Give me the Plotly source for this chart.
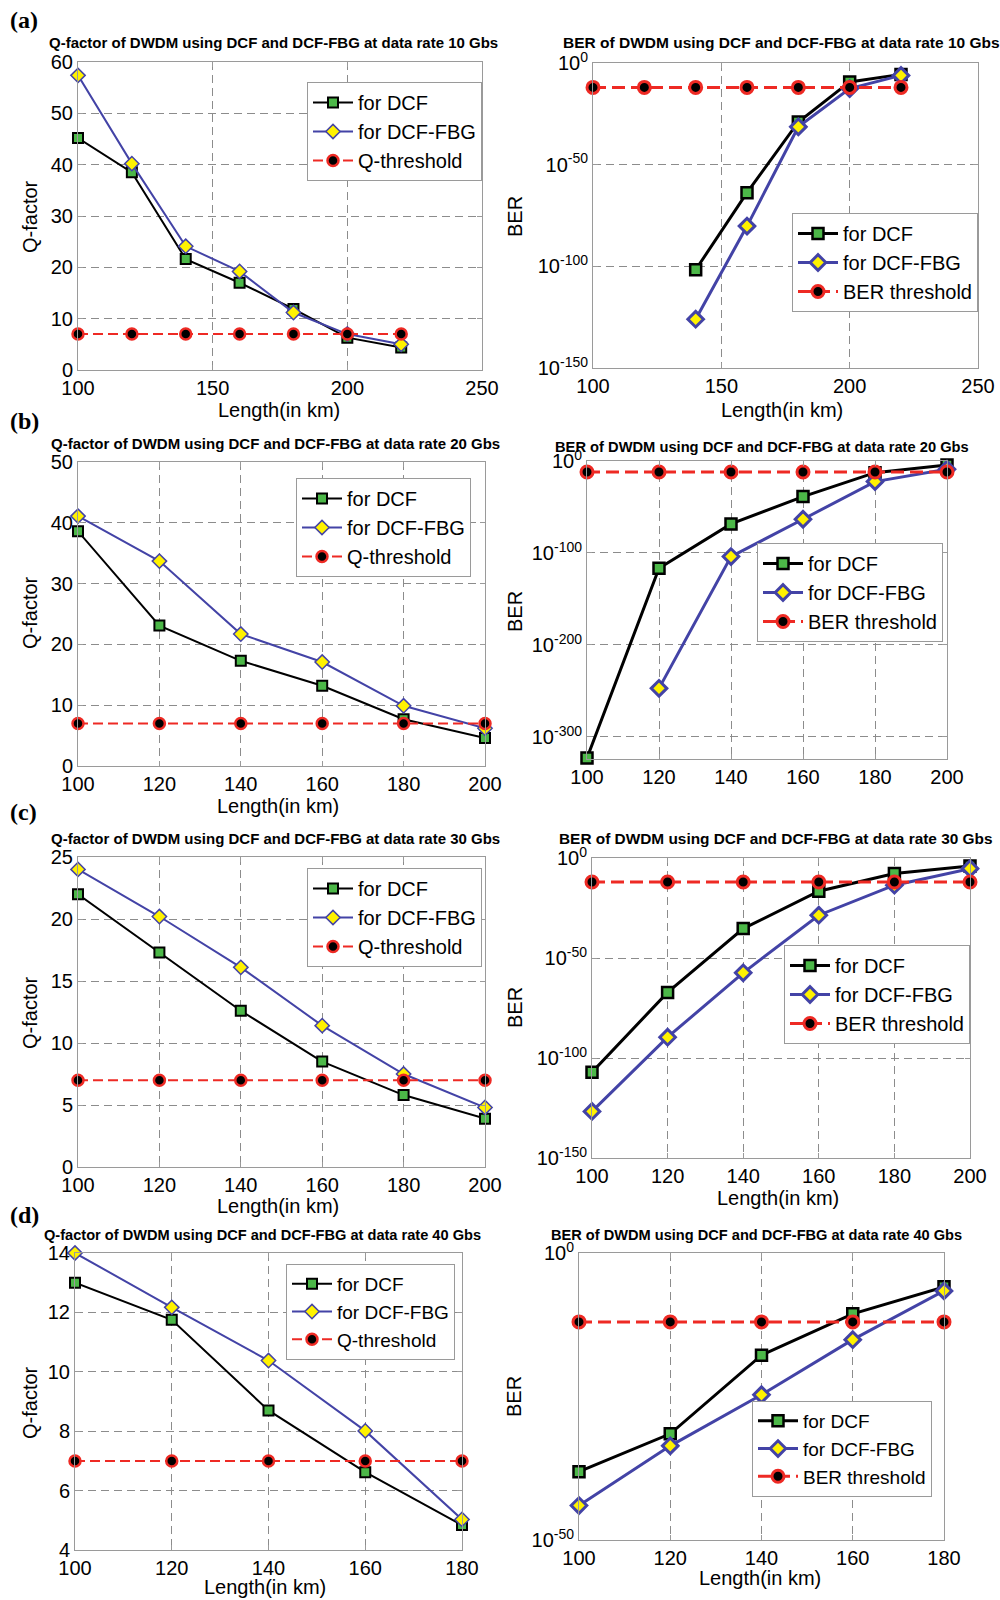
import plotly.graph_objects as go

W, H = 1000, 1600

# ---------------- data ----------------
# (a) 10 Gbs
len_a = [100, 120, 140, 160, 180, 200, 220]
q_dcf_10 = [45.2, 38.5, 21.6, 17.0, 11.9, 6.3, 4.4]
q_fbg_10 = [57.4, 40.2, 24.1, 19.2, 11.2, 7.0, 5.0]
q_thr_10 = [7, 7, 7, 7, 7, 7, 7]
ber_len_10 = [140, 160, 180, 200, 220]
ber_dcf_10 = [-101.7, -63.8, -29.0, -9.3, -5.6]      # log10(BER)
ber_fbg_10 = [-126.0, -80.2, -31.4, -12.6, -6.1]
ber_thr_10 = [-12, -12, -12, -12, -12, -12, -12]

# (b) 20 Gbs
len_b = [100, 120, 140, 160, 180, 200]
q_dcf_20 = [38.6, 23.1, 17.3, 13.2, 7.7, 4.6]
q_fbg_20 = [41.1, 33.7, 21.7, 17.1, 9.9, 6.2]
q_thr_20 = [7, 7, 7, 7, 7, 7]
ber_len_dcf_20 = [100, 120, 140, 160, 180, 200]
ber_dcf_20 = [-322.8, -116.5, -68.4, -38.7, -12.7, -4.3]
ber_len_fbg_20 = [120, 140, 160, 180, 200]
ber_fbg_20 = [-247.2, -103.9, -63.3, -22.4, -9.0]
ber_thr_20 = [-12, -12, -12, -12, -12, -12]

# (c) 30 Gbs
len_c = [100, 120, 140, 160, 180, 200]
q_dcf_30 = [22.0, 17.3, 12.6, 8.5, 5.8, 3.9]
q_fbg_30 = [24.0, 20.2, 16.1, 11.4, 7.5, 4.8]
q_thr_30 = [7, 7, 7, 7, 7, 7]
ber_dcf_30 = [-107.1, -67.2, -35.3, -16.6, -7.8, -4.0]
ber_fbg_30 = [-126.7, -89.6, -57.4, -28.6, -13.6, -5.3]
ber_thr_30 = [-12, -12, -12, -12, -12, -12]

# (d) 40 Gbs
len_d = [100, 120, 140, 160, 180]
q_dcf_40 = [13.0, 11.75, 8.7, 6.62, 4.84]
q_fbg_40 = [14.0, 12.17, 10.38, 8.01, 5.03]
q_thr_40 = [7, 7, 7, 7, 7]
ber_dcf_40 = [-38.1, -31.5, -17.8, -10.6, -5.9]
ber_fbg_40 = [-44.0, -33.6, -24.7, -15.1, -6.6]
ber_thr_40 = [-12, -12, -12, -12, -12]

FONT = "Liberation Sans, Arial, sans-serif"
BLACK = "#000000"
GREEN = "#4cb848"
BLUE = "#4343a6"
YELLOW = "#fff200"
RED = "#ee2a24"
GRID = "#8c8c8c"
FRAME = "#9a9a9a"

fig = go.Figure()
layout = dict(
    width=W, height=H,
    margin=dict(l=0, r=0, t=0, b=0, pad=0, autoexpand=False),
    paper_bgcolor="white", plot_bgcolor="white",
    font=dict(family=FONT, color="black"),
    annotations=[],
)


def px_x(p):
    return p / W


def px_y(p):
    return 1 - p / H


def add_panel(idx, box, xrange_, xticks, yrange_, yticks, yticktext,
              series, legend_box, legend_font, title, title_xy, title_size,
              ylab, ylab_xy, xlab_xy, ber):
    l, t, r, b = box
    xa = "xaxis" if idx == 1 else f"xaxis{idx}"
    ya = "yaxis" if idx == 1 else f"yaxis{idx}"
    xref = "x" if idx == 1 else f"x{idx}"
    yref = "y" if idx == 1 else f"y{idx}"
    lg = "legend" if idx == 1 else f"legend{idx}"
    common = dict(showline=True, linecolor=FRAME, linewidth=1, mirror="ticks",
                  ticks="inside", ticklen=5, tickcolor=FRAME,
                  showgrid=True, gridcolor=GRID, griddash="8px,5px", gridwidth=1,
                  zeroline=False, automargin=False,
                  tickfont=dict(family=FONT, size=20, color="black"))
    layout[xa] = dict(domain=[px_x(l), px_x(r)], range=xrange_, anchor=yref,
                      tickmode="array", tickvals=xticks,
                      ticktext=[str(v) for v in xticks], **common)
    layout[ya] = dict(domain=[px_y(b), px_y(t)], range=yrange_, anchor=xref,
                      tickmode="array", tickvals=yticks, ticktext=yticktext,
                      **common)
    lw = 3 if ber else 2
    msz = 12 if ber else 11
    for name, xs, ys, kind in series:
        if kind == "dcf":
            line = dict(color=BLACK, width=lw)
            marker = dict(symbol="square", size=msz - 1, color=GREEN,
                          line=dict(color=BLACK, width=2.5 if ber else 2))
        elif kind == "fbg":
            line = dict(color=BLUE, width=lw)
            marker = dict(symbol="diamond", size=msz, color=YELLOW,
                          line=dict(color=BLUE, width=3 if ber else 1.5))
        else:
            line = dict(color=RED, width=lw, dash="13px,6px" if ber else "10px,5px")
            marker = dict(symbol="circle", size=msz, color=BLACK,
                          line=dict(color=RED, width=3 if ber else 2.5))
        fig.add_trace(go.Scatter(x=xs, y=ys, name=name, mode="lines+markers",
                                 line=line, marker=marker, xaxis=xref,
                                 yaxis=yref, legend=lg, showlegend=True,
                                 cliponaxis=False))
    lr, lt = legend_box
    layout[lg] = dict(x=px_x(lr), y=px_y(lt), xanchor="right", yanchor="top",
                      xref="paper", yref="paper",
                      bgcolor="white", bordercolor=FRAME, borderwidth=1,
                      font=dict(family=FONT, size=legend_font, color="black"),
                      tracegroupgap=0, itemwidth=40)
    anns = layout["annotations"]
    anns.append(dict(text=f"<b>{title}</b>", x=px_x(title_xy[0]), y=px_y(title_xy[1]),
                     xref="paper", yref="paper", showarrow=False,
                     xanchor="center", yanchor="middle",
                     font=dict(family=FONT, size=title_size, color="black")))
    anns.append(dict(text=ylab, x=px_x(ylab_xy[0]), y=px_y(ylab_xy[1]),
                     xref="paper", yref="paper", showarrow=False, textangle=-90,
                     xanchor="center", yanchor="middle",
                     font=dict(family=FONT, size=20, color="black")))
    if xlab_xy is not None:
        anns.append(dict(text="Length(in km)", x=px_x(xlab_xy[0]), y=px_y(xlab_xy[1]),
                         xref="paper", yref="paper", showarrow=False,
                         xanchor="center", yanchor="middle",
                         font=dict(family=FONT, size=20, color="black")))


def sup(vals):
    return [f"10<sup>{v}</sup>" for v in vals]


# (a) left
add_panel(1, (78, 62, 482, 370), [100, 250], [100, 150, 200, 250],
          [0, 60], [0, 10, 20, 30, 40, 50, 60], [str(v) for v in [0, 10, 20, 30, 40, 50, 60]],
          [("for DCF", len_a, q_dcf_10, "dcf"), ("for DCF-FBG", len_a, q_fbg_10, "fbg"),
           ("Q-threshold", len_a, q_thr_10, "thr")],
          (482, 82), 20, "Q-factor of DWDM using DCF and DCF-FBG at data rate 10 Gbs",
          (273, 43), 15, "Q-factor", (30, 217), (279, 410), False)
# (a) right
add_panel(2, (593, 63, 978, 368), [100, 250], [100, 150, 200, 250],
          [-150, 0], [0, -50, -100, -150], sup([0, -50, -100, -150]),
          [("for DCF", ber_len_10, ber_dcf_10, "dcf"), ("for DCF-FBG", ber_len_10, ber_fbg_10, "fbg"),
           ("BER threshold", len_a, ber_thr_10, "thr")],
          (978, 213), 20, "BER of DWDM using DCF and DCF-FBG at data rate 10 Gbs",
          (781, 43), 15.5, "BER", (515, 217), (782, 410), True)
# (b) left
add_panel(3, (78, 462, 485, 766), [100, 200], [100, 120, 140, 160, 180, 200],
          [0, 50], [0, 10, 20, 30, 40, 50], [str(v) for v in [0, 10, 20, 30, 40, 50]],
          [("for DCF", len_b, q_dcf_20, "dcf"), ("for DCF-FBG", len_b, q_fbg_20, "fbg"),
           ("Q-threshold", len_b, q_thr_20, "thr")],
          (471, 478), 20, "Q-factor of DWDM using DCF and DCF-FBG at data rate 20 Gbs",
          (275, 443), 15, "Q-factor", (30, 613), (278, 806), False)
# (b) right
add_panel(4, (587, 461, 947, 759), [100, 200], [100, 120, 140, 160, 180, 200],
          [-324, 0], [0, -100, -200, -300], sup([0, -100, -200, -300]),
          [("for DCF", ber_len_dcf_20, ber_dcf_20, "dcf"),
           ("for DCF-FBG", ber_len_fbg_20, ber_fbg_20, "fbg"),
           ("BER threshold", len_b, ber_thr_20, "thr")],
          (943, 543), 20, "BER of DWDM using DCF and DCF-FBG at data rate 20 Gbs",
          (762, 447), 14.7, "BER", (515, 612), None, True)
# (c) left
add_panel(5, (78, 857, 485, 1167), [100, 200], [100, 120, 140, 160, 180, 200],
          [0, 25], [0, 5, 10, 15, 20, 25], [str(v) for v in [0, 5, 10, 15, 20, 25]],
          [("for DCF", len_c, q_dcf_30, "dcf"), ("for DCF-FBG", len_c, q_fbg_30, "fbg"),
           ("Q-threshold", len_c, q_thr_30, "thr")],
          (482, 868), 20, "Q-factor of DWDM using DCF and DCF-FBG at data rate 30 Gbs",
          (275, 838), 15, "Q-factor", (30, 1013), (278, 1206), False)
# (c) right
add_panel(6, (592, 858, 970, 1158), [100, 200], [100, 120, 140, 160, 180, 200],
          [-150, 0], [0, -50, -100, -150], sup([0, -50, -100, -150]),
          [("for DCF", len_c, ber_dcf_30, "dcf"), ("for DCF-FBG", len_c, ber_fbg_30, "fbg"),
           ("BER threshold", len_c, ber_thr_30, "thr")],
          (970, 945), 20, "BER of DWDM using DCF and DCF-FBG at data rate 30 Gbs",
          (776, 838), 15.4, "BER", (515, 1008), (778, 1198), True)
# (d) left
add_panel(7, (75, 1253, 462, 1550), [100, 180], [100, 120, 140, 160, 180],
          [4, 14], [4, 6, 8, 10, 12, 14], [str(v) for v in [4, 6, 8, 10, 12, 14]],
          [("for DCF", len_d, q_dcf_40, "dcf"), ("for DCF-FBG", len_d, q_fbg_40, "fbg"),
           ("Q-threshold", len_d, q_thr_40, "thr")],
          (455, 1264), 19, "Q-factor of DWDM using DCF and DCF-FBG at data rate 40 Gbs",
          (262, 1235), 14.6, "Q-factor", (30, 1403), (265, 1587), False)
# (d) right
add_panel(8, (579, 1253, 944, 1540), [100, 180], [100, 120, 140, 160, 180],
          [-50, 0], [0, -50], sup([0, -50]),
          [("for DCF", len_d, ber_dcf_40, "dcf"), ("for DCF-FBG", len_d, ber_fbg_40, "fbg"),
           ("BER threshold", len_d, ber_thr_40, "thr")],
          (932, 1401), 19, "BER of DWDM using DCF and DCF-FBG at data rate 40 Gbs",
          (756, 1235), 14.6, "BER", (514, 1397), (760, 1578), True)

# panel letters
for lab, yy in [("(a)", 20), ("(b)", 421), ("(c)", 812), ("(d)", 1215)]:
    layout["annotations"].append(dict(
        text=f"<b>{lab}</b>", x=px_x(8), y=px_y(yy), xref="paper", yref="paper",
        showarrow=False, xanchor="left", yanchor="middle",
        font=dict(family="Liberation Serif, Times New Roman, serif", size=24, color="black")))

fig.update_layout(**layout)
fig.write_html(
    "out.html",
    config={"displayModeBar": False},
    post_script="document.body.style.margin='0px';document.body.style.overflow='hidden';",
)
